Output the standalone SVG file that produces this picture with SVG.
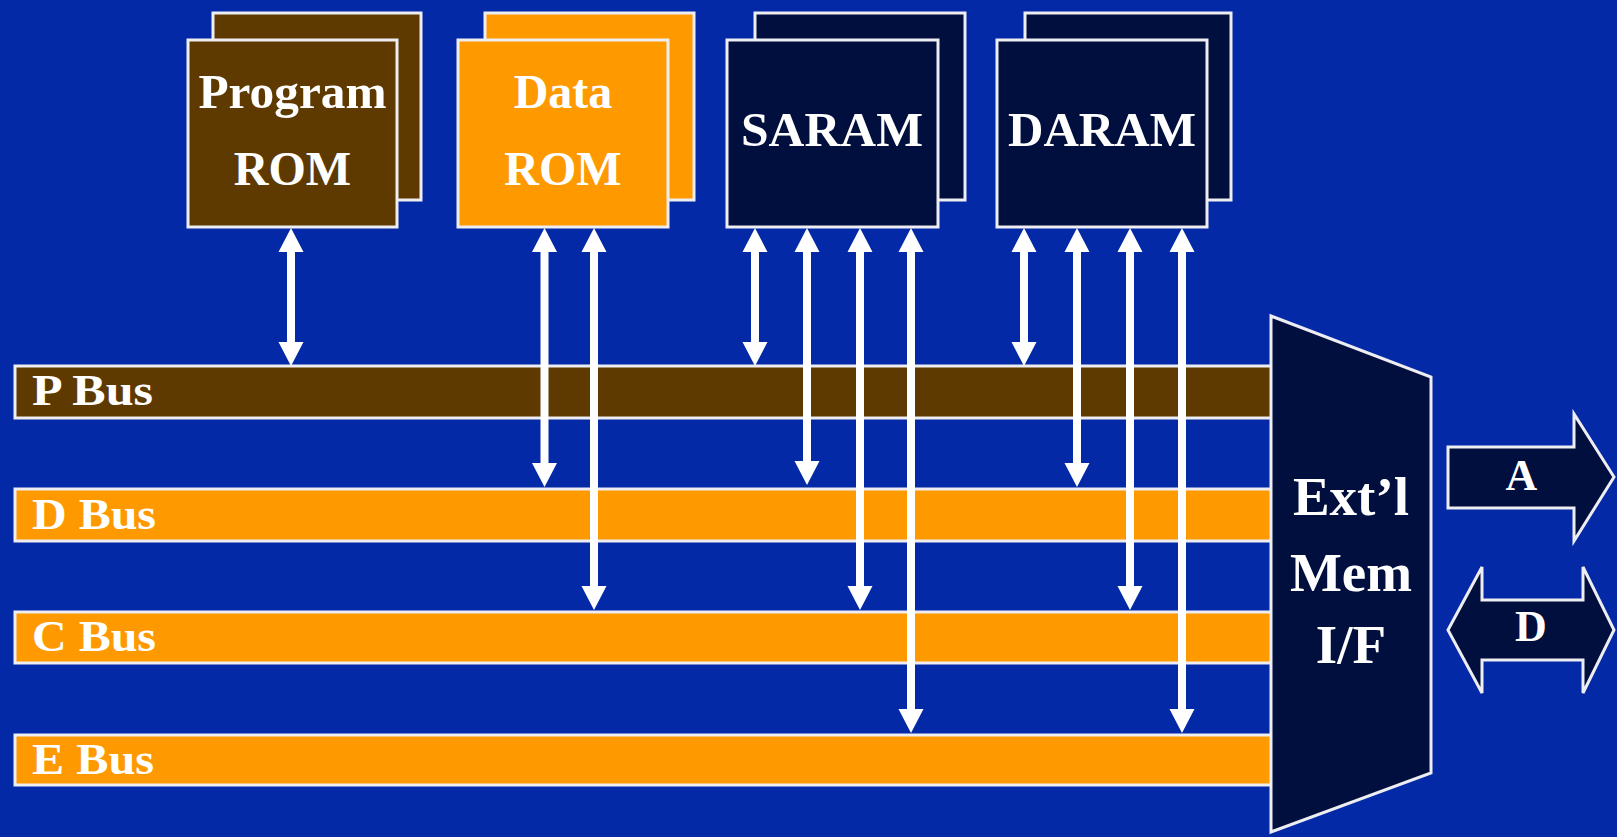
<svg xmlns="http://www.w3.org/2000/svg" width="1617" height="837" viewBox="0 0 1617 837">
<style>
.lbl{font-family:"Liberation Serif","Times New Roman",serif;font-weight:bold;fill:#FFFFFF}
.box{stroke:#EDEDF2;stroke-width:3}
.brown{fill:#5F3A00}
.orange{fill:#FF9900}
.navy{fill:#000F3D}
.arr{fill:#FFFFFF}
</style>
<rect x="0" y="0" width="1617" height="837" fill="#0329A6"/>

<g id="bus-p">
<rect class="box brown" x="15" y="366" width="1258" height="52"/>
<text class="lbl" x="32" y="405" font-size="45" textLength="121" lengthAdjust="spacingAndGlyphs">P Bus</text>
</g>
<g id="bus-d">
<rect class="box orange" x="15" y="489" width="1258" height="52"/>
<text class="lbl" x="32" y="529" font-size="45" textLength="124" lengthAdjust="spacingAndGlyphs">D Bus</text>
</g>
<g id="bus-c">
<rect class="box orange" x="15" y="612" width="1258" height="51"/>
<text class="lbl" x="32" y="651" font-size="45" textLength="124" lengthAdjust="spacingAndGlyphs">C Bus</text>
</g>
<g id="bus-e">
<rect class="box orange" x="15" y="735" width="1258" height="50"/>
<text class="lbl" x="32" y="774" font-size="45" textLength="122" lengthAdjust="spacingAndGlyphs">E Bus</text>
</g>

<g id="program-rom">
<rect class="box brown" x="213" y="13" width="208" height="187"/>
<rect class="box brown" x="188" y="40" width="209" height="187"/>
<text class="lbl" x="292.5" y="108" font-size="48" text-anchor="middle" textLength="188" lengthAdjust="spacingAndGlyphs">Program</text>
<text class="lbl" x="292.5" y="185" font-size="48" text-anchor="middle">ROM</text>
</g>
<g id="data-rom">
<rect class="box orange" x="485" y="13" width="209" height="187"/>
<rect class="box orange" x="458" y="40" width="210" height="187"/>
<text class="lbl" x="563" y="108" font-size="48" text-anchor="middle">Data</text>
<text class="lbl" x="563" y="185" font-size="48" text-anchor="middle">ROM</text>
</g>
<g id="saram">
<rect class="box navy" x="755" y="13" width="210" height="187"/>
<rect class="box navy" x="727" y="40" width="211" height="187"/>
<text class="lbl" x="832" y="146" font-size="48" text-anchor="middle" textLength="182" lengthAdjust="spacingAndGlyphs">SARAM</text>
</g>
<g id="daram">
<rect class="box navy" x="1025" y="13" width="206" height="187"/>
<rect class="box navy" x="997" y="40" width="210" height="187"/>
<text class="lbl" x="1102" y="146" font-size="48" text-anchor="middle" textLength="188" lengthAdjust="spacingAndGlyphs">DARAM</text>
</g>

<g id="connectors">
<path class="arr" d="M291,228 L303.5,252 L295,252 L295,342 L303.5,342 L291,366 L278.5,342 L287,342 L287,252 L278.5,252 Z"/>
<path class="arr" d="M544.5,228 L557,252 L548.5,252 L548.5,463 L557,463 L544.5,487 L532,463 L540.5,463 L540.5,252 L532,252 Z"/>
<path class="arr" d="M594,228 L606.5,252 L598,252 L598,586 L606.5,586 L594,610 L581.5,586 L590,586 L590,252 L581.5,252 Z"/>
<path class="arr" d="M755,228 L767.5,252 L759,252 L759,342 L767.5,342 L755,366 L742.5,342 L751,342 L751,252 L742.5,252 Z"/>
<path class="arr" d="M807,228 L819.5,252 L811,252 L811,461 L819.5,461 L807,485 L794.5,461 L803,461 L803,252 L794.5,252 Z"/>
<path class="arr" d="M860,228 L872.5,252 L864,252 L864,586 L872.5,586 L860,610 L847.5,586 L856,586 L856,252 L847.5,252 Z"/>
<path class="arr" d="M911,228 L923.5,252 L915,252 L915,709 L923.5,709 L911,733 L898.5,709 L907,709 L907,252 L898.5,252 Z"/>
<path class="arr" d="M1024,228 L1036.5,252 L1028,252 L1028,342 L1036.5,342 L1024,366 L1011.5,342 L1020,342 L1020,252 L1011.5,252 Z"/>
<path class="arr" d="M1077,228 L1089.5,252 L1081,252 L1081,463 L1089.5,463 L1077,487 L1064.5,463 L1073,463 L1073,252 L1064.5,252 Z"/>
<path class="arr" d="M1130,228 L1142.5,252 L1134,252 L1134,586 L1142.5,586 L1130,610 L1117.5,586 L1126,586 L1126,252 L1117.5,252 Z"/>
<path class="arr" d="M1182,228 L1194.5,252 L1186,252 L1186,709 L1194.5,709 L1182,733 L1169.5,709 L1178,709 L1178,252 L1169.5,252 Z"/>
</g>

<g id="ext-mem-if">
<polygon class="box navy" points="1271,316 1431,377 1431,773 1271,832"/>
<text class="lbl" x="1351" y="515" font-size="55" text-anchor="middle">Ext’l</text>
<text class="lbl" x="1351" y="591" font-size="55" text-anchor="middle">Mem</text>
<text class="lbl" x="1351" y="663" font-size="55" text-anchor="middle">I/F</text>
</g>

<g id="addr-out">
<polygon class="box navy" points="1448,447 1574,447 1574,414 1614,477 1574,541 1574,508 1448,508"/>
<text class="lbl" x="1521.5" y="490" font-size="44" text-anchor="middle">A</text>
</g>
<g id="data-io">
<polygon class="box navy" points="1448,630 1482,567 1482,600 1583,600 1583,567 1614,630 1583,693 1583,660 1482,660 1482,693"/>
<text class="lbl" x="1531" y="641" font-size="44" text-anchor="middle">D</text>
</g>
</svg>
